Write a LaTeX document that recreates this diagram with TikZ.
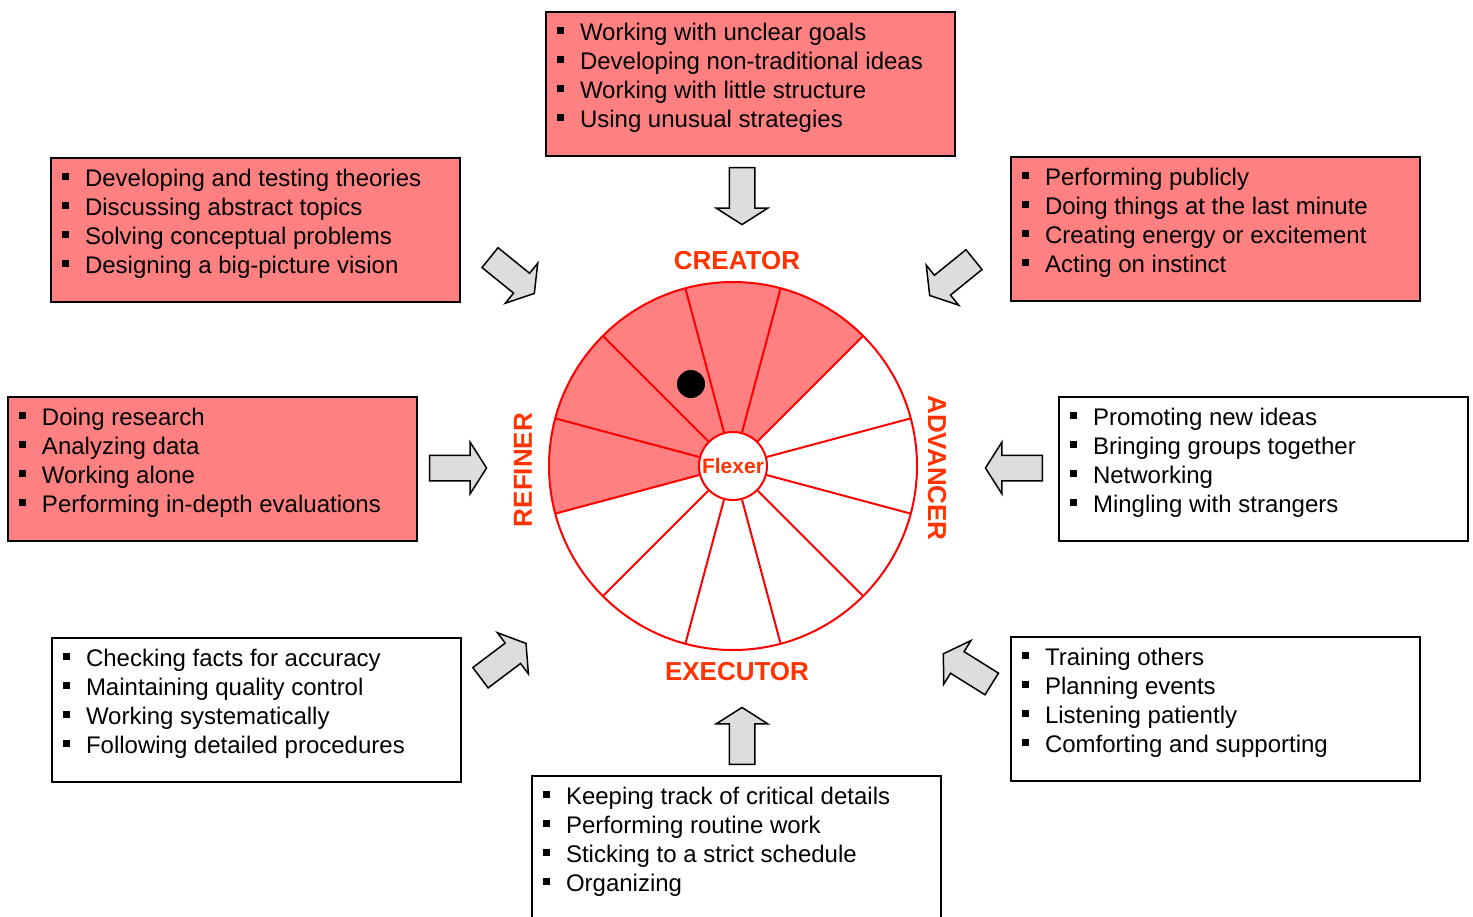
\documentclass[tikz,border=0pt]{standalone}
\usepackage{fontspec}
\setmainfont{Liberation Sans}
\usetikzlibrary{shapes.arrows}

\definecolor{boxred}{HTML}{FF8080}
\definecolor{rolered}{HTML}{FF3300}
\definecolor{arrowgray}{HTML}{DDDDDD}

\newcommand{\bul}{\par\noindent\hspace*{11pt}\rule[6.5pt]{7pt}{7pt}\hspace{16pt}\strut}
\newcommand{\panellist}[1]{\parbox[c][144pt][t]{409pt}{\vspace*{8pt}#1}}

\begin{document}
\begin{tikzpicture}[x=1pt,y=1pt,
    panel/.style={draw=black,line width=2pt,anchor=north west,inner sep=0pt,
      minimum width=409pt,minimum height=144pt,font=\fontsize{24}{29}\selectfont},
    blockarrow/.style={single arrow,draw=black,line width=1.5pt,fill=arrowgray,
      inner xsep=0pt,inner ysep=12pt,text height=0pt,text depth=0pt,
      minimum height=57pt,single arrow head extend=13pt,single arrow tip angle=115},
    spoke/.style={draw=red,line width=2pt},
    role/.style={text=rolered,font=\fontsize{26}{30}\selectfont\bfseries}]
  \useasboundingbox (0,0) rectangle (1473,-916);

  % wheel
  \coordinate (wheelc) at (733,-466);
  \fill[color=boxred] (wheelc) -- ++(45:184) arc[start angle=45,end angle=195,radius=184] -- cycle;
  \node[circle,draw=red,fill=white,line width=2pt,minimum size=68pt,inner sep=0pt,
    text=rolered,font=\fontsize{21}{24}\selectfont\bfseries] (flexer) at (wheelc) {Flexer};
  \foreach \a in {15,45,...,345}
    \draw[spoke] (flexer.\a) -- ([shift={(\a:184)}]wheelc);
  \draw[spoke] (wheelc) circle (184);
  \node[circle,fill=black,minimum size=28pt,inner sep=0pt] (marker) at (691,-384) {};

  % role names
  \node[role] (creator) at (737,-261) {CREATOR};
  \node[role] (executor) at (737,-672) {EXECUTOR};
  \node[role,rotate=90] (refiner) at (523,-470) {REFINER};
  \node[role,rotate=-90] (advancer) at (937,-468) {ADVANCER};

  % lists
  \node[panel,fill=boxred] (creatorbox) at (545,-11) {\panellist{%
    \bul Working with unclear goals
    \bul Developing non-traditional ideas
    \bul Working with little structure
    \bul Using unusual strategies}};
  \node[panel,fill=boxred] (theorybox) at (50,-157) {\panellist{%
    \bul Developing and testing theories
    \bul Discussing abstract topics
    \bul Solving conceptual problems
    \bul Designing a big-picture vision}};
  \node[panel,fill=boxred] (publicbox) at (1010,-156) {\panellist{%
    \bul Performing publicly
    \bul Doing things at the last minute
    \bul Creating energy or excitement
    \bul Acting on instinct}};
  \node[panel,fill=boxred] (refinerbox) at (7,-396) {\panellist{%
    \bul Doing research
    \bul Analyzing data
    \bul Working alone
    \bul Performing in-depth evaluations}};
  \node[panel,fill=white] (advancerbox) at (1058,-396) {\panellist{%
    \bul Promoting new ideas
    \bul Bringing groups together
    \bul Networking
    \bul Mingling with strangers}};
  \node[panel,fill=white] (qualitybox) at (51,-637) {\panellist{%
    \bul Checking facts for accuracy
    \bul Maintaining quality control
    \bul Working systematically
    \bul Following detailed procedures}};
  \node[panel,fill=white] (carebox) at (1010,-636) {\panellist{%
    \bul Training others
    \bul Planning events
    \bul Listening patiently
    \bul Comforting and supporting}};
  \node[panel,fill=white] (executorbox) at (531,-775) {\panellist{%
    \bul Keeping track of critical details
    \bul Performing routine work
    \bul Sticking to a strict schedule
    \bul Organizing}};

  % arrows towards the wheel
  \node[blockarrow,rotate=-90] (creatorarrow) at (742,-192) {};
  \node[blockarrow,rotate=90] (executorarrow) at (742,-740) {};
  \node[blockarrow,rotate=0] (refinerarrow) at (454,-468) {};
  \node[blockarrow,rotate=180] (advancerarrow) at (1018,-468) {};
  \node[blockarrow,rotate=-39] (theoryarrow) at (509,-273) {};
  \node[blockarrow,rotate=-141] (publicarrow) at (955,-275) {};
  \node[blockarrow,rotate=37] (qualityarrow) at (500,-663) {};
  \node[blockarrow,rotate=148] (carearrow) at (971,-671) {};
\end{tikzpicture}
\end{document}
